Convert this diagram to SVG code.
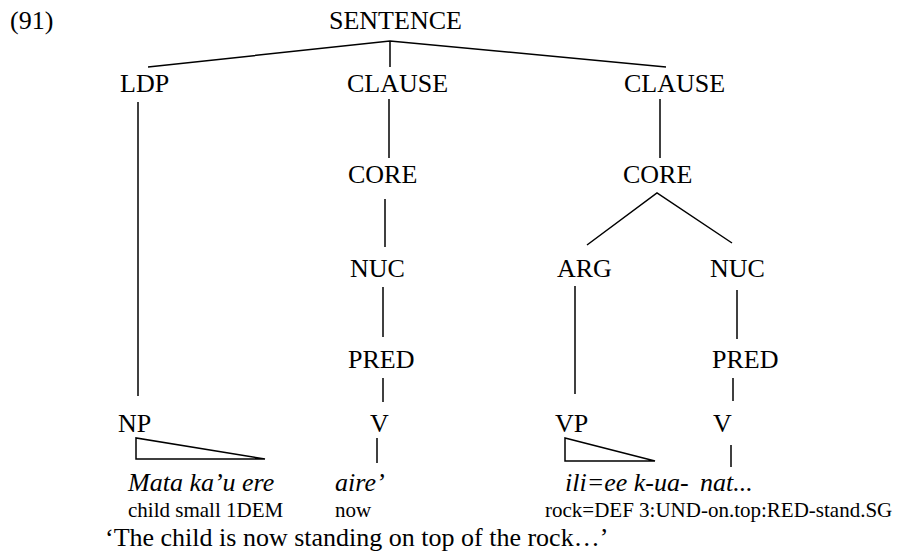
<svg xmlns="http://www.w3.org/2000/svg" width="906" height="553" viewBox="0 0 906 553">
<style>
text{font-family:"Liberation Serif","Times New Roman",serif;fill:#000}
.lab{font-size:26px}
.obj{font-size:26px;font-style:italic}
.gl{font-size:21px}
.tr{font-size:26px}
.e{stroke:#000;stroke-width:1.5;fill:none}
</style>
<rect width="906" height="553" fill="#fff"/>
<text class="lab" x="10" y="29">(91)</text>
<g id="connectors">
<polyline class="e" points="148,67 390,41 666,67"/>
<line class="e" x1="390" y1="41" x2="390" y2="67"/>
<line class="e" x1="138" y1="102" x2="138" y2="396"/>
<line class="e" x1="389" y1="99" x2="389" y2="158"/>
<line class="e" x1="385" y1="199" x2="385" y2="247"/>
<line class="e" x1="383" y1="287" x2="383" y2="337"/>
<line class="e" x1="383" y1="378" x2="383" y2="402"/>
<line class="e" x1="377" y1="438" x2="377" y2="463"/>
<line class="e" x1="660" y1="99" x2="660" y2="158"/>
<polyline class="e" points="587,245 657,193 732,243"/>
<line class="e" x1="575" y1="286" x2="575" y2="394"/>
<line class="e" x1="737" y1="290" x2="737" y2="339"/>
<line class="e" x1="733" y1="378" x2="733" y2="401"/>
<line class="e" x1="731" y1="445" x2="731" y2="467"/>
<polygon class="e" points="136,438 136,459 265,459"/>
<polygon class="e" points="565,438 565,461 655,461"/>
</g>
<g id="sentence"><text class="lab" x="329" y="29">SENTENCE</text></g>
<g id="ldp"><text class="lab" x="120" y="92">LDP</text></g>
<g id="clause1"><text class="lab" x="347" y="92">CLAUSE</text></g>
<g id="clause2"><text class="lab" x="624" y="92">CLAUSE</text></g>
<g id="core1"><text class="lab" x="348" y="183">CORE</text></g>
<g id="core2"><text class="lab" x="623" y="183">CORE</text></g>
<g id="nuc1"><text class="lab" x="350" y="277">NUC</text></g>
<g id="arg"><text class="lab" x="557" y="277">ARG</text></g>
<g id="nuc2"><text class="lab" x="710" y="277">NUC</text></g>
<g id="pred1"><text class="lab" x="348" y="368">PRED</text></g>
<g id="pred2"><text class="lab" x="712" y="368">PRED</text></g>
<g id="np"><text class="lab" x="118" y="432">NP</text></g>
<g id="v1"><text class="lab" x="370" y="432">V</text></g>
<g id="vp"><text class="lab" x="555" y="432">VP</text></g>
<g id="v2"><text class="lab" x="713" y="432">V</text></g>
<g id="words">
<text class="obj" x="128" y="491">Mata ka’u ere</text>
<text class="obj" x="335" y="491">aire’</text>
<text class="obj" x="565" y="491">ili=ee k-ua-</text>
<text class="obj" x="700" y="491">nat...</text>
<text class="gl" x="128" y="517">child small 1DEM</text>
<text class="gl" x="335" y="517">now</text>
<text class="gl" x="545" y="517">rock=DEF 3:UND-on.top:RED-stand.SG</text>
<text class="tr" x="105" y="546">‘The child is now standing on top of the rock…’</text>
</g>
</svg>
